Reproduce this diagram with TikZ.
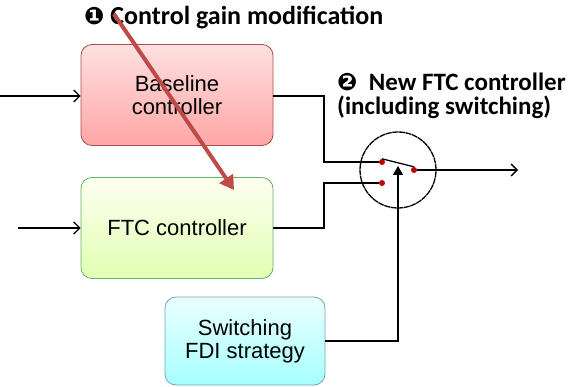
\documentclass[tikz,border=0pt]{standalone}
\usepackage{fontspec}
\setmainfont{Liberation Sans}
\newfontfamily\notefont{Carlito}
\newfontfamily\dingfont{DejaVu Sans}
\usetikzlibrary{arrows.meta}
\definecolor{redline}{RGB}{190,75,72}
\tikzset{
  block/.style={draw, rounded corners=11pt, minimum width=192pt, minimum height=101pt, align=center, font=\fontsize{22}{23}\selectfont, line width=0.8pt},
  wire/.style={line width=1.3pt},
  dot/.style={circle, fill=red!75!black, inner sep=0pt, minimum size=6pt},
  note/.style={font=\notefont\bfseries\fontsize{26}{24}\selectfont, inner sep=0pt}
}
\newcommand{\marknum}[1]{{\dingfont\fontsize{24}{24}\selectfont #1}}
\begin{document}
\begin{tikzpicture}[x=1pt,y=-1pt]
    \useasboundingbox (0,0) rectangle (570,387);
    \node [block, draw=red!55!black!70, top color=red!12, bottom color=red!35] (base) at (177,95) {Baseline\\controller};
    \node [block, draw=green!50!black!60, top color=green!8!yellow!6, bottom color=green!40!yellow!30] (ftc) at (177,228) {FTC controller};
    \node [block, draw=cyan!60!black!70, top color=cyan!8, bottom color=cyan!35, minimum width=160pt, minimum height=88pt] (fdi) at (245,341) {Switching\\FDI strategy};
    % switch
    \node [draw, circle, line width=1.3pt, dashed, dash pattern=on 6pt off 0.6pt, minimum size=76pt] (sw) at (398,170) {};
    \node [dot] (d1) at (382,162) {};
    \node [dot] (d2) at (382,183) {};
    \node [dot] (d3) at (414,170) {};
    \draw [wire] (d1.north) -- (d3.north);
    % inputs
    \coordinate (in1) at (0,96);
    \coordinate (in2) at (18,228);
    \coordinate (out) at (518,170);
    \draw [wire, -{Straight Barb[length=6pt]}] (in1) -- (base.west |- in1);
    \draw [wire, -{Straight Barb[length=6pt]}] (in2) -- (ftc.west |- in2);
    \draw [wire] (base.east |- in1) -| (324,162) -- (d1);
    \draw [wire] (ftc.east |- in2) -| (324,183) -- (d2);
    \draw [wire, -{Triangle[length=9pt,width=10pt]}] (fdi.east) -| (398,166);
    \draw [wire, -{Straight Barb[length=6pt]}] (d3) -- (out);
    % notes
    \node [note, anchor=west] (note1) at (84,18) {\marknum{❶} Control gain modification};
    \node [note, anchor=west, align=left, font=\notefont\bfseries\fontsize{25}{24}\selectfont] (note2) at (337,96) {\marknum{❷}\ \ New FTC controller\\(including switching)};
    \coordinate (a1) at (114,14);
    \coordinate (a2) at (234,190);
    \draw [redline, line width=4pt, -{Triangle[length=14pt,width=16pt]}] (a1) -- (a2);
\end{tikzpicture}
\end{document}
